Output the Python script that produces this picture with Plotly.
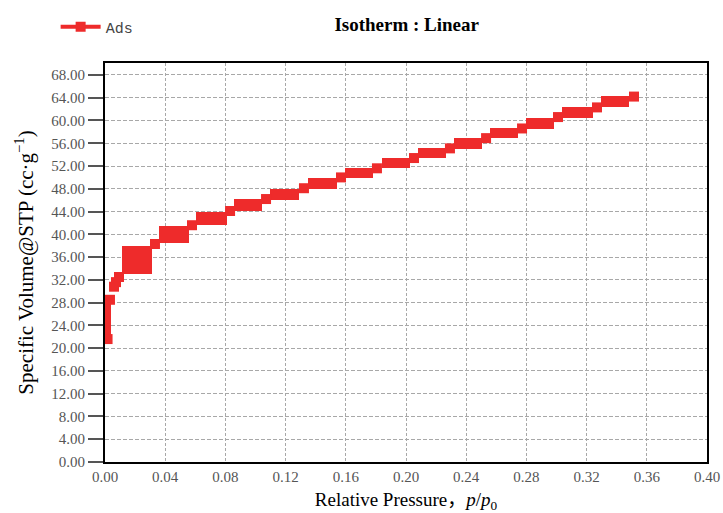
import plotly.graph_objects as go

# ---- data ----
# thick horizontal pieces of the "Ads" curve: x-extent and y-extent
seg_x0 = [0.000, 0.0113, 0.0359, 0.0605, 0.0857, 0.1096, 0.1349, 0.1595, 0.1841, 0.2080, 0.2319, 0.2558, 0.2797, 0.3037, 0.3296]
seg_x1 = [0.004, 0.0312, 0.0558, 0.0811, 0.1043, 0.1289, 0.1542, 0.1781, 0.2027, 0.2266, 0.2505, 0.2744, 0.2983, 0.3243, 0.3482]
seg_y0 = [20.86, 32.95, 38.56, 41.71, 44.16, 46.09, 48.02, 49.95, 51.70, 53.45, 55.03, 56.96, 58.54, 60.46, 62.39]
seg_y1 = [29.27, 38.03, 41.54, 43.99, 46.27, 48.02, 49.95, 51.70, 53.45, 55.21, 56.96, 58.71, 60.46, 62.39, 64.32]

# square markers (Ads points)
pt_x = [0.0017, 0.0033, 0.0060, 0.0073, 0.0093, 0.0332, 0.0578, 0.0831, 0.1070, 0.1322, 0.1568, 0.1807, 0.2053, 0.2292, 0.2532, 0.2771, 0.3010, 0.3269, 0.3515]
pt_y = [21.6, 28.5, 30.8, 31.6, 32.5, 38.3, 41.6, 44.1, 46.2, 48.1, 50.0, 51.6, 53.4, 55.1, 56.9, 58.6, 60.6, 62.3, 64.2]

x_ticks = [0.00, 0.04, 0.08, 0.12, 0.16, 0.20, 0.24, 0.28, 0.32, 0.36, 0.40]
y_ticks = list(range(0, 69, 4))

RED = "#EE2B2B"
SERIF = "Liberation Serif, Noto Sans CJK SC, serif"

fig = go.Figure()

fig.add_trace(go.Bar(
    x=[(a + b) / 2 for a, b in zip(seg_x0, seg_x1)],
    width=[b - a for a, b in zip(seg_x0, seg_x1)],
    base=seg_y0,
    y=[b - a for a, b in zip(seg_y0, seg_y1)],
    marker=dict(color=RED, line=dict(width=0)),
    showlegend=False, hoverinfo="skip",
))

fig.add_trace(go.Scatter(
    x=pt_x, y=pt_y, mode="markers",
    marker=dict(symbol="square", size=10, color=RED, line=dict(width=0)),
    showlegend=False,
))

# legend entry
fig.add_trace(go.Scatter(
    x=[None], y=[None], mode="lines+markers", name="Ads",
    line=dict(color=RED, width=4),
    marker=dict(symbol="square", size=10, color=RED),
))

grid_col = "#a8a8a8"
fig.update_layout(
    width=723, height=513,
    margin=dict(l=105, r=16, t=62, b=51),
    plot_bgcolor="white", paper_bgcolor="white",
    bargap=0,
    title=dict(text="<b>Isotherm : Linear</b>", x=0.5625, xanchor="center",
               y=1 - 24 / 513, yanchor="middle",
               font=dict(family=SERIF, size=19, color="black")),
    legend=dict(x=-0.082, y=1.0875, xanchor="left", yanchor="middle",
                itemwidth=40,
                font=dict(family="Liberation Mono, monospace", size=15, color="#444"),
                bgcolor="rgba(0,0,0,0)"),
    font=dict(family=SERIF),
)

fig.update_xaxes(
    range=[0, 0.4], tickvals=x_ticks, ticktext=[f"{v:.2f}" for v in x_ticks],
    automargin=False,
    showgrid=True, gridcolor=grid_col, griddash="3px,2px", gridwidth=1,
    showline=True, linecolor="black", linewidth=1.5, mirror=True,
    ticks="", zeroline=False,
    tickfont=dict(family=SERIF, size=15, color="#555"),
    title=dict(text="Relative Pressure，<i>p</i>/<i>p</i><sub>0</sub>",
               font=dict(family=SERIF, size=19, color="black"), standoff=12),
)
fig.update_yaxes(
    range=[0, 70.1], tickvals=y_ticks, ticktext=[f"{v:.2f}" for v in y_ticks],
    automargin=False,
    showgrid=True, gridcolor=grid_col, griddash="4px,2px", gridwidth=1,
    showline=True, linecolor="black", linewidth=2, mirror=True,
    ticks="outside", ticklen=15, tickwidth=2, tickcolor="#555",
    zeroline=False,
    tickfont=dict(family=SERIF, size=15, color="#555"),
    title=dict(text="Specific Volume@STP (cc·g<sup>−1</sup>)",
               font=dict(family=SERIF, size=21, color="black"), standoff=12),
)

fig.write_html("out.html")
